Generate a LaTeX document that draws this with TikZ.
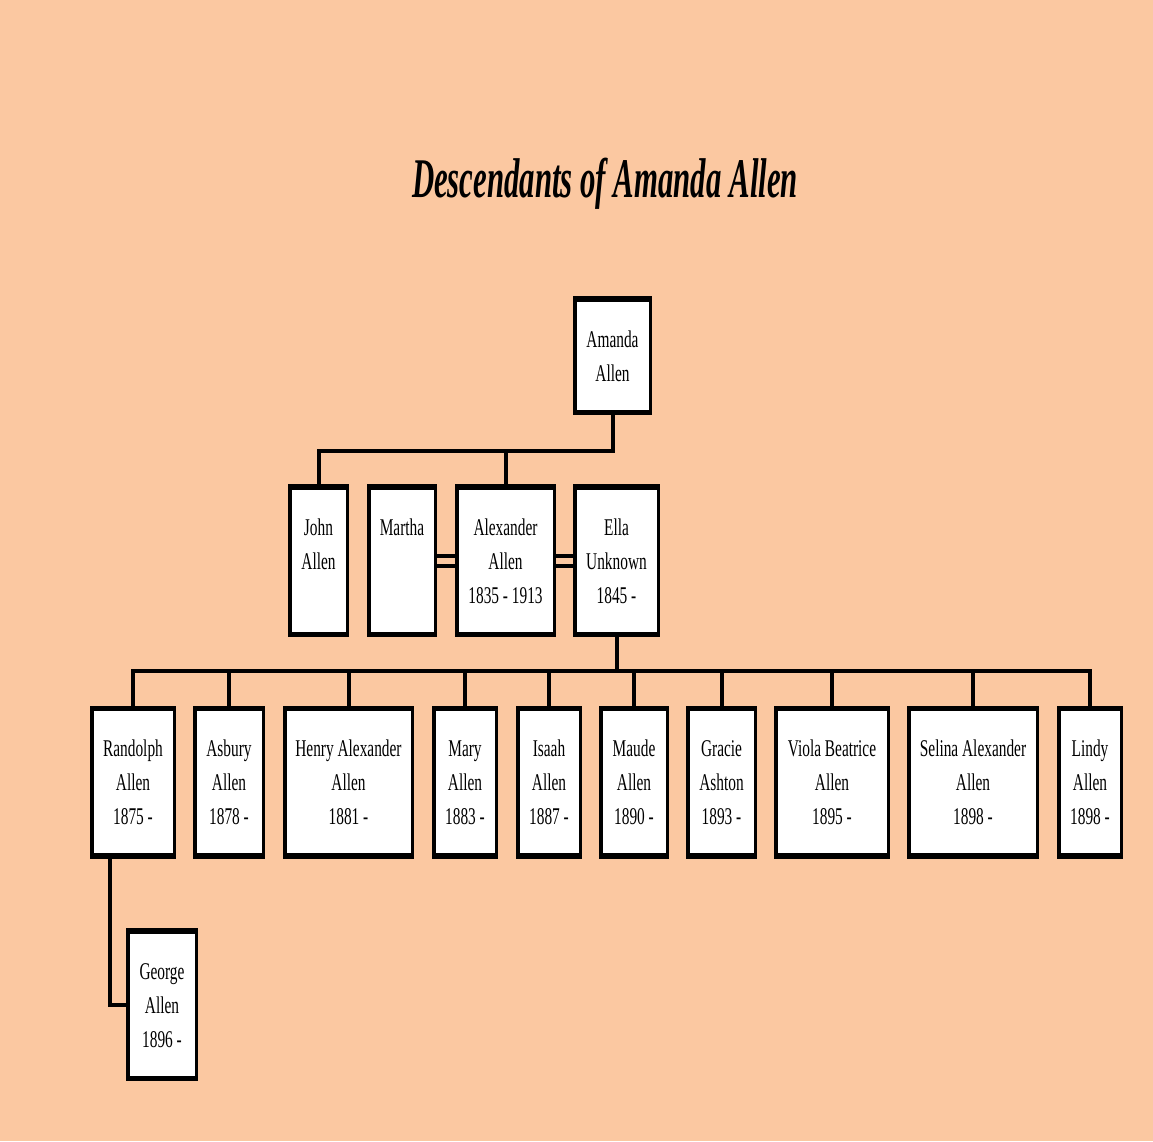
\documentclass[tikz,border=0pt]{standalone}
\usepackage{fontspec}
\newfontfamily\boxfont[FakeStretch=0.64]{Liberation Serif}
\newfontfamily\titlefont[FakeStretch=0.55]{Liberation Serif}
\definecolor{peach}{RGB}{251,200,161}
% box contents: every line carries a strut so the lines sit on a fixed grid;
% the first line gets a slightly taller strut to lower the block a little
\newcommand\topstrut{\rule{0pt}{27.8pt}}
\newcommand\tri[3]{\topstrut#1\\\strut#2\\\strut#3}
\newcommand\duo[2]{\topstrut#1\\\strut#2}
\tikzset{
  person/.style={draw=black, fill=white, line width=3.5pt, align=center,
    inner sep=0pt, font=\boxfont\fontsize{24}{34}\selectfont,
    minimum height=149.5pt},
  link/.style={draw=black, line width=4pt, line cap=rect},
  bar/.style={draw=black, line width=4pt},
  rim/.style={draw=black, line width=2pt},
}
\begin{document}
\begin{tikzpicture}[x=1pt, y=-1pt]
  \fill[peach] (0,0) rectangle (1153,1141);
  \useasboundingbox (0,0) rectangle (1153,1141);

  \node (title) [anchor=base, font=\titlefont\bfseries\itshape\fontsize{56}{60}\selectfont]
    at (605,197) {Descendants of Amanda Allen};

  % generation 1
  \node (amanda) [person, minimum width=75.5pt, minimum height=115.5pt] at (612.5,355.5) {\duo{Amanda}{Allen}};

  % generation 2
  \node (john)   [person, minimum width=57.5pt] at (318.5,560.5) {\tri{John}{Allen}{}};
  \node (martha) [person, minimum width=66.5pt] at (402,560.5)   {\tri{Martha}{}{}};
  \node (alex)   [person, minimum width=97.5pt] at (505.5,560.5) {\tri{Alexander}{Allen}{1835 - 1913}};
  \node (ella)   [person, minimum width=83.5pt] at (616.5,560.5) {\tri{Ella}{Unknown}{1845 -}};

  % generation 3
  \node (randolph) [person, minimum width=82.5pt]  at (133,782)   {\tri{Randolph}{Allen}{1875 -}};
  \node (asbury)   [person, minimum width=68.5pt]  at (229,782)   {\tri{Asbury}{Allen}{1878 -}};
  \node (henry)    [person, minimum width=127.5pt] at (348.5,782) {\tri{Henry Alexander}{Allen}{1881 -}};
  \node (mary)     [person, minimum width=62.5pt]  at (465,782)   {\tri{Mary}{Allen}{1883 -}};
  \node (isaah)    [person, minimum width=62.5pt]  at (549,782)   {\tri{Isaah}{Allen}{1887 -}};
  \node (maude)    [person, minimum width=66.5pt]  at (634,782)   {\tri{Maude}{Allen}{1890 -}};
  \node (gracie)   [person, minimum width=67.5pt]  at (721.5,782) {\tri{Gracie}{Ashton}{1893 -}};
  \node (viola)    [person, minimum width=112.5pt] at (832,782)   {\tri{Viola Beatrice}{Allen}{1895 -}};
  \node (selina)   [person, minimum width=128.5pt] at (973,782)   {\tri{Selina Alexander}{Allen}{1898 -}};
  \node (lindy)    [person, minimum width=62.5pt]  at (1090,782)  {\tri{Lindy}{Allen}{1898 -}};

  % generation 4
  \node (george) [person, minimum width=68.5pt] at (162,1004.5) {\tri{George}{Allen}{1896 -}};

  % heavier top and bottom rims on every box
  \foreach \n in {amanda,john,martha,alex,ella,randolph,asbury,henry,mary,isaah,
                  maude,gracie,viola,selina,lindy,george} {
    \draw[rim] ([yshift=-4.5pt]\n.north west) -- ([yshift=-4.5pt]\n.north east);
    \draw[rim] ([yshift=4.5pt]\n.south west) -- ([yshift=4.5pt]\n.south east);
  }

  % bus lines
  \coordinate (busA) at (0,451);
  \coordinate (busB) at (0,671);
  \coordinate (spouseUp) at (0,555.5);
  \coordinate (spouseDn) at (0,565.5);
  \coordinate (georgeLeg) at (110,0);

  \draw[link] (amanda.south) -- (amanda.south |- busA) -| (john.north);
  \draw[link] (alex.north) -- (alex.north |- busA);

  % marriages
  \draw[bar] (martha.east |- spouseUp) -- (alex.west |- spouseUp);
  \draw[bar] (martha.east |- spouseDn) -- (alex.west |- spouseDn);
  \draw[bar] (alex.east |- spouseUp) -- (ella.west |- spouseUp);
  \draw[bar] (alex.east |- spouseDn) -- (ella.west |- spouseDn);

  \draw[link] (ella.south) -- (ella.south |- busB);
  \draw[link] (randolph.north |- busB) -- (lindy.north |- busB);
  \foreach \c in {randolph,asbury,henry,mary,isaah,maude,gracie,viola,selina,lindy}
    \draw[link] (\c.north) -- (\c.north |- busB);

  \draw[link] (georgeLeg |- randolph.south) |- (george.west);
\end{tikzpicture}
\end{document}
